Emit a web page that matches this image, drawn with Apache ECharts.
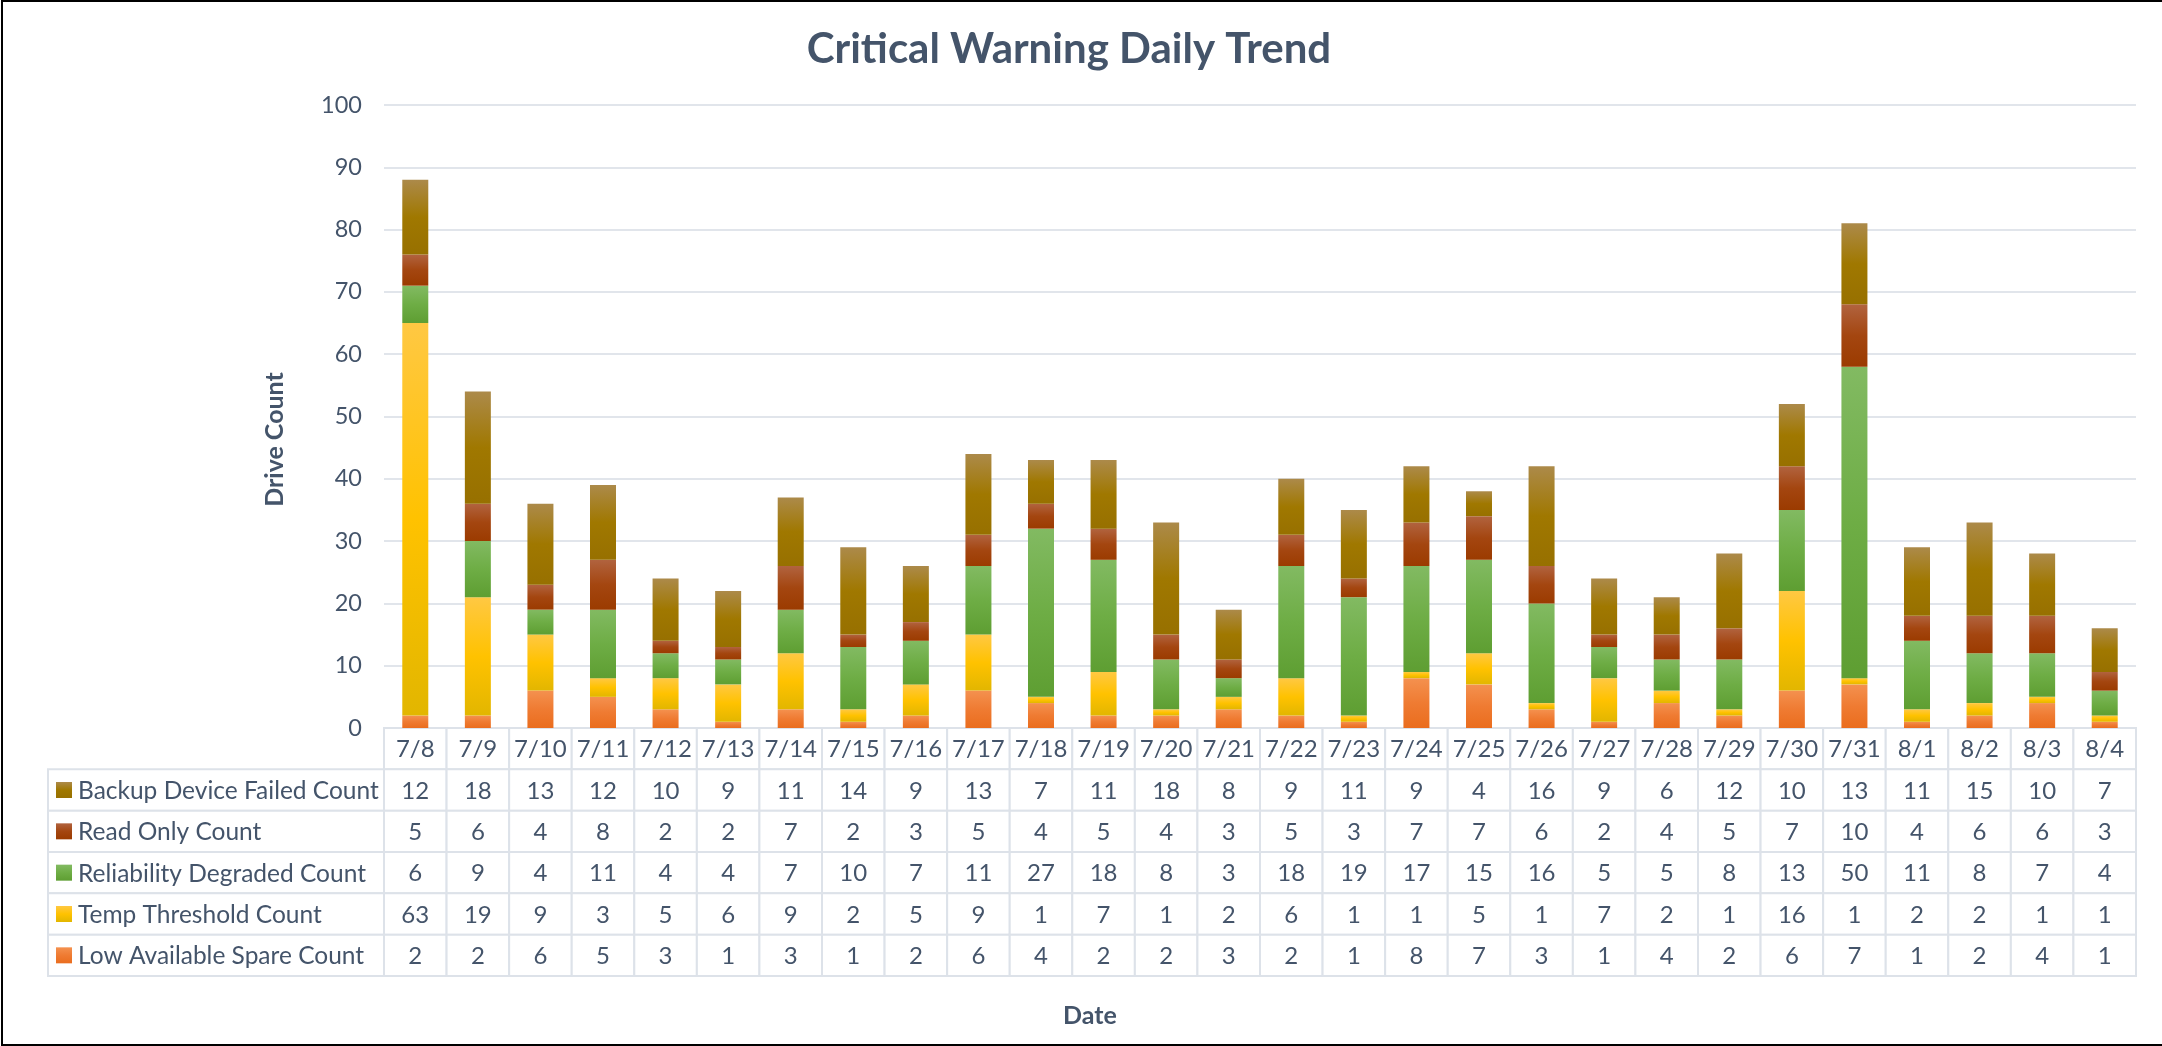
<!DOCTYPE html>
<html lang="en">
<head>
    <meta charset="UTF-8">
    <title>Critical Warning Daily Trend</title>
    <script type="text/javascript" src="https://cdn.jsdelivr.net/npm/echarts@6/dist/echarts.min.js"></script>
    <style>
        html, body { margin: 0; padding: 0; background: #fff; }
        #chart { width: 2162px; height: 1046px; position: relative; }
        #frame { position: absolute; left: 1px; top: 0; width: 2161px; height: 1046px; box-sizing: border-box;
                 border-left: 2px solid #000; border-top: 2px solid #000; border-bottom: 2px solid #000; pointer-events: none; }
    </style>
</head>
<body>
<div id="chart"></div>
<div id="frame"></div>
<script type="text/javascript">
// chart data
var dates = ['7/8','7/9','7/10','7/11','7/12','7/13','7/14','7/15','7/16','7/17','7/18','7/19','7/20','7/21',
             '7/22','7/23','7/24','7/25','7/26','7/27','7/28','7/29','7/30','7/31','8/1','8/2','8/3','8/4'];
var lowSpare    = [2,2,6,5,3,1,3,1,2,6,4,2,2,3,2,1,8,7,3,1,4,2,6,7,1,2,4,1];
var tempThresh  = [63,19,9,3,5,6,9,2,5,9,1,7,1,2,6,1,1,5,1,7,2,1,16,1,2,2,1,1];
var reliability = [6,9,4,11,4,4,7,10,7,11,27,18,8,3,18,19,17,15,16,5,5,8,13,50,11,8,7,4];
var readOnly    = [5,6,4,8,2,2,7,2,3,5,4,5,4,3,5,3,7,7,6,2,4,5,7,10,4,6,6,3];
var backupFail  = [12,18,13,12,10,9,11,14,9,13,7,11,18,8,9,11,9,4,16,9,6,12,10,13,11,15,10,7];
var yTicks = [0,10,20,30,40,50,60,70,80,90,100];

var textColor = '#44546A';
var borderColor = '#DDE2E9';
var font = 'Lato';

function grad(top, mid, bottom) {
    return new echarts.graphic.LinearGradient(0, 0, 0, 1, [
        {offset: 0, color: top}, {offset: 0.5, color: mid}, {offset: 1, color: bottom}
    ]);
}

// bottom to top of the stack
var stackSeries = [
    {name: 'Low Available Spare Count',   data: lowSpare,    color: grad('#F4914F', '#EF7B32', '#EA6D1E')},
    {name: 'Temp Threshold Count',        data: tempThresh,  color: grad('#FFC843', '#FFC200', '#E2B600')},
    {name: 'Reliability Degraded Count',  data: reliability, color: grad('#82BA62', '#6EAD45', '#5E9E32')},
    {name: 'Read Only Count',             data: readOnly,    color: grad('#B1633F', '#A44610', '#9B3B00')},
    {name: 'Backup Device Failed Count',  data: backupFail,  color: grad('#AC8A4A', '#A07800', '#977000')}
];
// table rows top to bottom
var tableRows = stackSeries.slice().reverse();
var rowNames = [''].concat(tableRows.map(function (s) { return s.name; }));

var tableCells = [];
for (var d = 0; d < dates.length; d++) {
    tableCells.push([d, 0, dates[d]]);
    for (var r = 0; r < tableRows.length; r++) {
        tableCells.push([d, r + 1, String(tableRows[r].data[d])]);
    }
}
var labelCells = [];
for (var k = 0; k < tableRows.length; k++) labelCells.push([0, k + 1]);

var chart = echarts.init(document.getElementById('chart'));

function renderCell(params, api) {
    var c = api.coord([api.value(0), api.value(1)]);
    var s = api.size([1, 1]);
    return {
        type: 'group',
        children: [{
            type: 'rect',
            shape: {x: c[0] - s[0] / 2, y: c[1] - s[1] / 2, width: s[0], height: s[1]},
            style: {fill: '#fff', stroke: borderColor, lineWidth: 2}
        }, {
            type: 'text',
            style: {x: c[0], y: c[1] + 1, text: tableCells[params.dataIndex][2], fill: textColor,
                    fontSize: 24, fontFamily: font, align: 'center', verticalAlign: 'middle'}
        }]
    };
}

function renderLabel(params, api) {
    var c = api.coord([0, api.value(1)]);
    var s = api.size([1, 1]);
    var left = 48;
    var right = params.coordSys.x;
    var row = tableRows[api.value(1) - 1];
    return {
        type: 'group',
        children: [{
            type: 'rect',
            shape: {x: left, y: c[1] - s[1] / 2, width: right - left, height: s[1]},
            style: {fill: '#fff', stroke: borderColor, lineWidth: 2}
        }, {
            type: 'rect',
            shape: {x: left + 8, y: c[1] - 8, width: 16, height: 16},
            style: {fill: row.color}
        }, {
            type: 'text',
            style: {x: left + 30, y: c[1] + 1, text: row.name, fill: textColor,
                    fontSize: 24.5, fontFamily: font, align: 'left', verticalAlign: 'middle'}
        }]
    };
}

var series = stackSeries.map(function (s) {
    return {
        name: s.name,
        type: 'bar',
        stack: 'total',
        barWidth: 26,
        xAxisIndex: 0,
        yAxisIndex: 0,
        data: s.data,
        itemStyle: {color: s.color}
    };
});
series.push({
    type: 'custom', xAxisIndex: 1, yAxisIndex: 1, clip: false, silent: true,
    data: tableCells.map(function (t) { return [t[0], t[1]]; }),
    renderItem: renderCell
});
series.push({
    type: 'custom', xAxisIndex: 1, yAxisIndex: 1, clip: false, silent: true,
    data: labelCells,
    renderItem: renderLabel
});

var option = {
    animation: false,
    title: [{
        text: 'Critical Warning Daily Trend',
        left: 1064, top: 23, textAlign: 'center',
        textStyle: {color: textColor, fontSize: 42, fontWeight: 'bold', fontFamily: font}
    }, {
        text: 'Date',
        left: 1085, top: 998, textAlign: 'center',
        textStyle: {color: textColor, fontSize: 25, fontWeight: 'bold', fontFamily: font}
    }],
    grid: [
        {left: 384, right: 26, top: 105, height: 623},
        {left: 384, right: 26, top: 728, height: 248}
    ],
    xAxis: [{
        gridIndex: 0, type: 'category', data: dates,
        axisLine: {show: false}, axisTick: {show: false}, axisLabel: {show: false}
    }, {
        gridIndex: 1, type: 'category', data: dates,
        axisLine: {show: false}, axisTick: {show: false}, axisLabel: {show: false}
    }],
    yAxis: [{
        gridIndex: 0, type: 'value', min: 0, max: 100, interval: 10,
        name: 'Drive Count', nameLocation: 'middle', nameGap: 97, nameRotate: 90,
        nameTextStyle: {color: textColor, fontSize: 25, fontWeight: 'bold', fontFamily: font,
                        padding: [0, 46, 0, 0]},
        axisLine: {show: false}, axisTick: {show: false},
        axisLabel: {color: textColor, fontSize: 23.5, fontFamily: font, margin: 22,
                    formatter: function (v) { return yTicks.indexOf(v) >= 0 ? String(v) : ''; }},
        splitLine: {lineStyle: {color: '#E1E5EB', width: 2}}
    }, {
        gridIndex: 1, type: 'category', data: rowNames, inverse: true,
        axisLine: {show: false}, axisTick: {show: false}, axisLabel: {show: false}
    }],
    series: series
};
chart.setOption(option);
</script>
</body>
</html>
